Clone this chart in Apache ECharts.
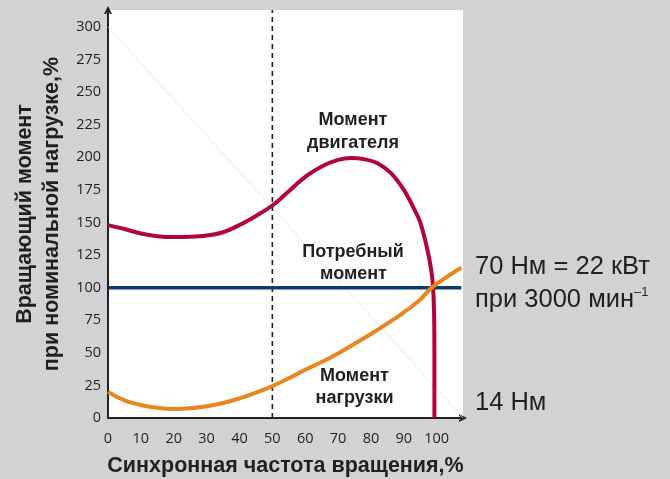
<!DOCTYPE html>
<html>
<head>
<meta charset="utf-8">
<script src="https://cdn.jsdelivr.net/npm/echarts@6/dist/echarts.min.js"></script>
<style>
  html, body { margin: 0; padding: 0; background: #d1d2d4; }
  #chart { width: 670px; height: 479px; }
</style>
</head>
<body>
<div id="chart"></div>
<script>
// Synchronous speed, % (x) vs torque at rated load, % (y)
const motorTorque = [
  [0, 148], [5, 145], [10, 141.5], [15, 139.5], [20, 138.8], [25, 139], [30, 140],
  [35, 142.5], [40, 148], [45, 155], [50, 163], [55, 174], [60, 185], [65, 193],
  [70, 198], [74, 199.5], [78, 198.5], [82, 195.5], [86, 188], [90, 175], [93, 161],
  [95, 150], [97, 131], [98.3, 114], [98.9, 100], [99.2, 80], [99.3, 50], [99.3, 0]
];
const loadTorque = [
  [0, 20], [5, 13.5], [10, 10], [15, 7.8], [20, 7], [25, 7.5], [30, 9], [35, 11.5],
  [40, 15], [45, 19.5], [50, 24.5], [55, 30.5], [60, 37], [65, 43], [70, 49.5],
  [75, 57], [80, 64.5], [85, 72.5], [90, 81], [95, 91], [98.5, 100], [103, 108], [107.5, 115.5]
];
const requiredTorque = [[0, 100], [107.5, 100]];
const syncLine = [[50, 0], [50, 313]];
const guideLine = [[0, 300], [108, 0]];

const xMax = 108, yMax = 313;
const xInterval = 10, yInterval = 25;

const dark = '#231f20';
const chevron = 'path://M0,10 L5,0 L10,10 L7.5,10 L5,5 L2.5,10 Z';

const chart = echarts.init(document.getElementById('chart'));
chart.setOption({
  backgroundColor: '#d1d2d4',
  animation: false,
  grid: {
    left: 108, right: 207, top: 10, bottom: 61,
    outerBoundsMode: 'none', containLabel: false,
    show: true, backgroundColor: '#ffffff', borderWidth: 0
  },
  xAxis: {
    type: 'value', min: 0, max: xMax, interval: xInterval,
    name: 'Синхронная частота вращения,%',
    nameLocation: 'middle', nameGap: 37,
    nameTextStyle: { fontFamily: 'Liberation Sans', fontWeight: 'bold', fontSize: 21.5, color: dark },
    axisLine: { lineStyle: { color: dark, width: 2 }, symbol: ['none', chevron], symbolSize: [12, 8] },
    axisTick: { show: false },
    splitLine: { show: false },
    axisLabel: { showMaxLabel: false, margin: 13, fontFamily: 'Open Sans', fontSize: 14.5, color: dark }
  },
  yAxis: {
    type: 'value', min: 0, max: yMax, interval: yInterval,
    name: 'Вращающий момент\nпри номинальной нагрузке,%',
    nameLocation: 'middle', nameRotate: 90, nameGap: 38,
    nameTextStyle: { fontFamily: 'Liberation Sans', fontWeight: 'bold', fontSize: 21.5, lineHeight: 27, color: dark },
    axisLine: { lineStyle: { color: dark, width: 2 }, symbol: ['none', chevron], symbolSize: [12, 8] },
    axisTick: { show: false },
    splitLine: { show: false },
    axisLabel: { showMaxLabel: false, margin: 7, fontFamily: 'Open Sans', fontSize: 14.5, color: dark }
  },
  series: [
    {
      type: 'line', data: guideLine, symbol: 'none', silent: true,
      lineStyle: { color: '#e4e4e4', width: 0.8 }, z: 1
    },
    {
      type: 'line', data: syncLine, symbol: 'none', silent: true,
      lineStyle: { color: dark, width: 1.6, type: [5, 4] }, z: 2
    },
    {
      type: 'line', data: requiredTorque, symbol: 'none',
      lineStyle: { color: '#073d6f', width: 3.5 }, z: 3
    },
    {
      type: 'line', data: motorTorque, symbol: 'none', smooth: 0.35,
      lineStyle: { color: '#b2063a', width: 4 }, z: 4
    },
    {
      type: 'line', data: loadTorque, symbol: 'none', smooth: 0.5,
      lineStyle: { color: '#e8861f', width: 4 }, z: 5
    }
  ],
  graphic: [
    ...[
      ['Момент', 353, 120], ['двигателя', 353, 143],
      ['Потребный', 353, 252], ['момент', 353.5, 274],
      ['Момент', 354.5, 376], ['нагрузки', 354.5, 398]
    ].map(([t, x, y]) => ({
      type: 'text', x: x, y: y, z: 10,
      style: { text: t, align: 'center', verticalAlign: 'middle', font: 'bold 18px "Liberation Sans"', fill: dark }
    })),
    ...[
      ['70 Нм = 22 кВт', 475, 267],
      ['при 3000 мин', 475, 300],
      ['14 Нм', 475, 403]
    ].map(([t, x, y]) => ({
      type: 'text', x: x, y: y, z: 10,
      style: { text: t, align: 'left', verticalAlign: 'middle', font: '25.5px "Liberation Sans"', fill: dark }
    })),
    {
      type: 'text', x: 634, y: 292, z: 10,
      style: { text: '–1', align: 'left', verticalAlign: 'middle', font: '13px "Liberation Sans"', fill: dark }
    }
  ]
});
</script>
</body>
</html>
